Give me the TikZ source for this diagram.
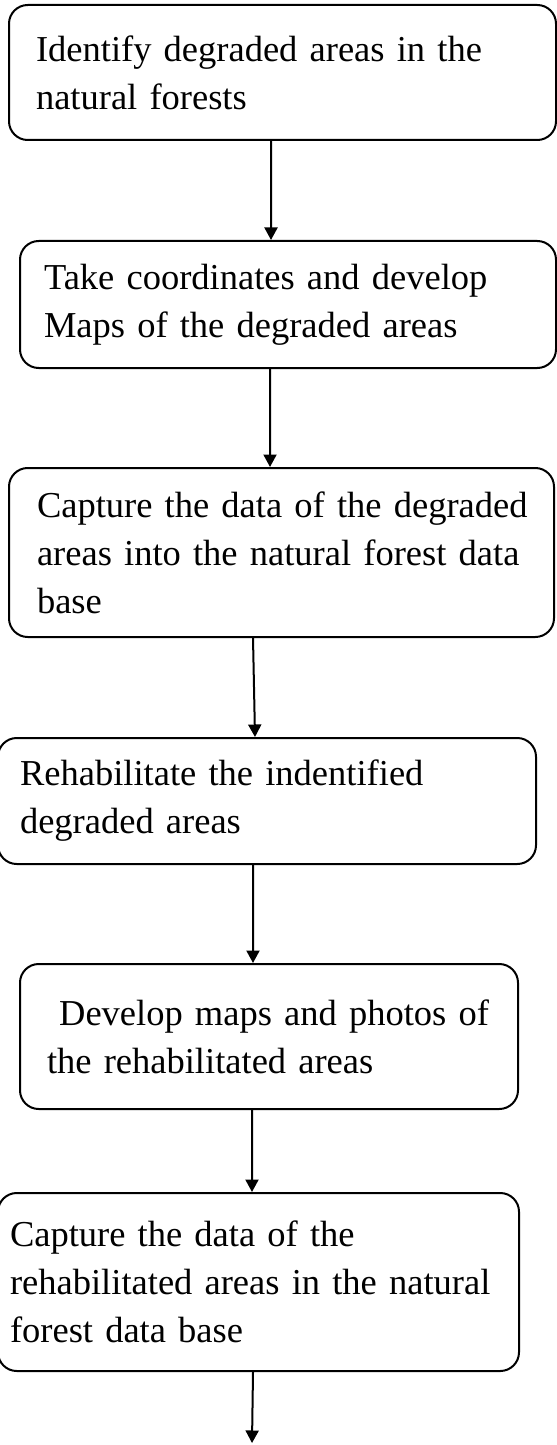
\documentclass[tikz,border=0pt]{standalone}
\usepackage{fontspec}
\setmainfont{Liberation Serif}
\usetikzlibrary{arrows.meta}
\tikzset{
  taskbox/.style={draw,line width=0.8pt,rounded corners=7.5pt,anchor=north west,
    align=left,inner xsep=2pt,inner ysep=2pt,font=\fontsize{14.6}{19.2}\selectfont},
  lpad/.style={execute at begin node={\leftskip=#1\relax}},
  flow/.style={->,line width=0.8pt}
}
\begin{document}
\begin{tikzpicture}[x=0.4pt,y=-0.4pt,>={Triangle[length=5pt,width=5.2pt]}]
% Page frame (pixels of the original)
\useasboundingbox (0,0) rectangle (556,1445);

% Steps, placed by top left corner
\node[taskbox,lpad=8.8pt,text width=214.8pt,minimum height=54pt] (ident) at (8,4)
  {Identify degraded areas in the\\natural forests};
\node[taskbox,lpad=7.6pt,text width=210.4pt,minimum height=50.8pt] (coords) at (19,240)
  {Take coordinates and develop\\Maps of the degraded areas};
\node[taskbox,lpad=9.2pt,text width=214pt,minimum height=67.6pt] (capdeg) at (8,467)
  {Capture the data of the degraded\\areas into the natural forest data\\base};
\node[taskbox,lpad=6.8pt,text width=211.2pt,minimum height=50.4pt] (rehab) at (-3,737)
  {Rehabilitate the indentified\\degraded areas};
\node[taskbox,lpad=8.8pt,text width=195.2pt,minimum height=58pt] (maps) at (19,963)
  {\ Develop maps and photos of\\the rehabilitated areas};
\node[taskbox,lpad=2.8pt,text width=204.4pt,minimum height=71.2pt] (caprehab) at (-3,1192)
  {Capture the data of the\\rehabilitated areas in the natural\\forest data base};
\coordinate (tail) at (252,1443);

% Arrows
\draw[flow] ([xshift=-4.6pt]ident.south) -- ([xshift=-6.8pt]coords.north);
\draw[flow] ([xshift=-7.2pt]coords.south) -- ([xshift=-4.6pt]capdeg.north);
\draw[flow] ([xshift=-11.4pt]capdeg.south) -- ([xshift=-4.8pt]rehab.north);
\draw[flow] ([xshift=-5.6pt]rehab.south) -- ([xshift=-6.4pt]maps.north);
\draw[flow] ([xshift=-6.8pt]maps.south) -- ([xshift=-2.6pt]caprehab.north);
\draw[flow] ([xshift=-2.2pt]caprehab.south) -- (tail);
\end{tikzpicture}
\end{document}
